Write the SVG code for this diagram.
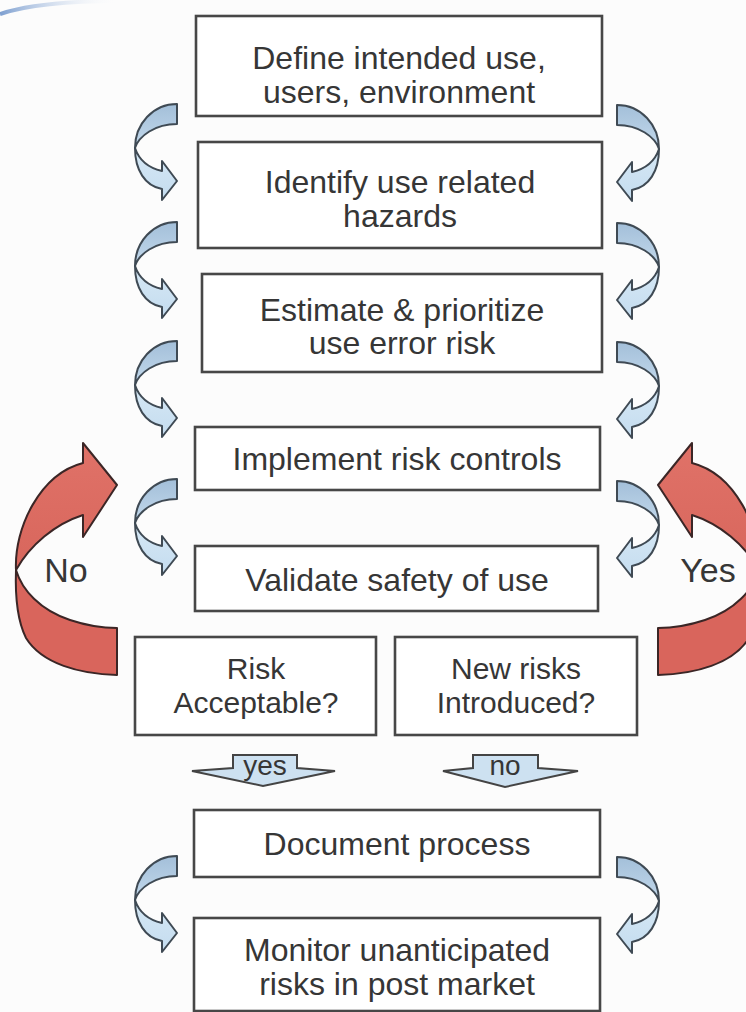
<svg xmlns="http://www.w3.org/2000/svg" xmlns:xlink="http://www.w3.org/1999/xlink" width="746" height="1012" viewBox="0 0 746 1012">
<style>
.box{fill:#ffffff;stroke:#474747;stroke-width:2.6}
.t{font-family:"Liberation Sans",Arial,sans-serif;font-size:32px;fill:#363636;text-anchor:middle}
.td{font-family:"Liberation Sans",Arial,sans-serif;font-size:30px;fill:#363636;text-anchor:middle}
.tl{font-family:"Liberation Sans",Arial,sans-serif;font-size:34px;fill:#363636;text-anchor:middle}
.ty{font-family:"Liberation Sans",Arial,sans-serif;font-size:28px;fill:#363636;text-anchor:middle}
.bu{fill:url(#gBlueUp);stroke:#3f4a54;stroke-width:2;stroke-linejoin:round}
.bl{fill:url(#gBlueLo);stroke:#3f4a54;stroke-width:2;stroke-linejoin:round}
.ru{fill:url(#gRedUp);stroke:#3b2626;stroke-width:2;stroke-linejoin:round}
.rl{fill:#d9655c;stroke:#3b2626;stroke-width:2;stroke-linejoin:round}
.yn{fill:#cde1f1;stroke:#444;stroke-width:2;stroke-linejoin:miter}
</style>
<defs>
<linearGradient id="gBlueUp" x1="0" y1="0" x2="0" y2="1">
<stop offset="0" stop-color="#a3bfd9"/><stop offset="1" stop-color="#c3d9ec"/>
</linearGradient>
<linearGradient id="gBlueLo" x1="0" y1="0" x2="0" y2="1">
<stop offset="0" stop-color="#d6e8f5"/><stop offset="1" stop-color="#c4dcef"/>
</linearGradient>
<linearGradient id="gRedUp" x1="0" y1="0" x2="0" y2="1">
<stop offset="0" stop-color="#e07268"/><stop offset="1" stop-color="#d8665c"/>
</linearGradient>
<linearGradient id="gSwoosh" x1="0" y1="0" x2="1" y2="0">
<stop offset="0" stop-color="#7d9fd0"/><stop offset="1" stop-color="#ffffff" stop-opacity="0"/>
</linearGradient>
<g id="blueArrow">
<path class="bu" d="M0,0 C-24,0 -42,20 -42,44 C-38,32 -22,20 0,20 Z"/>
<path class="bl" d="M-42,44 C-38,56 -28,64 -15,67 L-15,57 L0,77 L-15,96 L-15,85 C-32,82 -42,66 -42,44 Z"/>
</g>
<g id="redArrow">
<path class="rl" d="M117,628 L117,675 C80,674 42,664 26,638 C18,622 15,598 16,570 C22,590 40,610 70,620 C88,626 102,628 117,628 Z"/>
<path class="ru" d="M16,570 C14,528 40,474 83,463 L83,443 L117,485 L83,537 L83,515 C55,524 30,545 16,570 Z"/>
</g>
</defs>
<rect width="746" height="1012" fill="#fcfcfc"/>
<path d="M0,14 C30,4 70,1 120,1" fill="none" stroke="url(#gSwoosh)" stroke-width="4"/>

<g id="connectors">
<use xlink:href="#blueArrow" transform="translate(177,104)"/>
<use xlink:href="#blueArrow" transform="translate(177,222)"/>
<use xlink:href="#blueArrow" transform="translate(177,341)"/>
<use xlink:href="#blueArrow" transform="translate(177,479)"/>
<use xlink:href="#blueArrow" transform="translate(177,856)"/>
<use xlink:href="#blueArrow" transform="translate(617,105) scale(-1,1)"/>
<use xlink:href="#blueArrow" transform="translate(617,223) scale(-1,1)"/>
<use xlink:href="#blueArrow" transform="translate(617,342) scale(-1,1)"/>
<use xlink:href="#blueArrow" transform="translate(617,481) scale(-1,1)"/>
<use xlink:href="#blueArrow" transform="translate(617,857) scale(-1,1)"/>
<use xlink:href="#redArrow"/>
<use xlink:href="#redArrow" transform="translate(775,0) scale(-1,1)"/>
<text class="tl" x="66" y="582">No</text>
<text class="tl" x="708" y="582">Yes</text>
<path class="yn" d="M233,755 L297,755 L297,768 L335,771 L263,786 L192,771 L233,768 Z"/>
<text class="ty" x="265" y="775">yes</text>
<path class="yn" d="M473,755 L538,755 L538,768 L578,771 L505,787 L443,771 L473,768 Z"/>
<text class="ty" x="505" y="775">no</text>
</g>

<g id="n1"><rect class="box" x="196" y="16" width="406" height="100"/>
<text class="t" x="399" y="69">Define intended use,</text><text class="t" x="399" y="103">users, environment</text></g>
<g id="n2"><rect class="box" x="198" y="142" width="404" height="106"/>
<text class="t" x="400" y="193">Identify use related</text><text class="t" x="400" y="227">hazards</text></g>
<g id="n3"><rect class="box" x="202" y="274" width="400" height="98"/>
<text class="t" x="402" y="321">Estimate &amp; prioritize</text><text class="t" x="402" y="354">use error risk</text></g>
<g id="n4"><rect class="box" x="195" y="427" width="405" height="63"/>
<text class="t" x="397" y="470">Implement risk controls</text></g>
<g id="n5"><rect class="box" x="195" y="546" width="403" height="65"/>
<text class="t" x="397" y="591">Validate safety of use</text></g>
<g id="n6"><rect class="box" x="135" y="637" width="241" height="98"/>
<text class="td" x="256" y="679">Risk</text><text class="td" x="256" y="713">Acceptable?</text></g>
<g id="n7"><rect class="box" x="395" y="637" width="242" height="98"/>
<text class="td" x="516" y="679">New risks</text><text class="td" x="516" y="713">Introduced?</text></g>
<g id="n8"><rect class="box" x="194" y="810" width="406" height="67"/>
<text class="t" x="397" y="855">Document process</text></g>
<g id="n9"><rect class="box" x="194" y="918" width="406" height="93"/>
<text class="t" x="397" y="961">Monitor unanticipated</text><text class="t" x="397" y="995">risks in post market</text></g>
</svg>
